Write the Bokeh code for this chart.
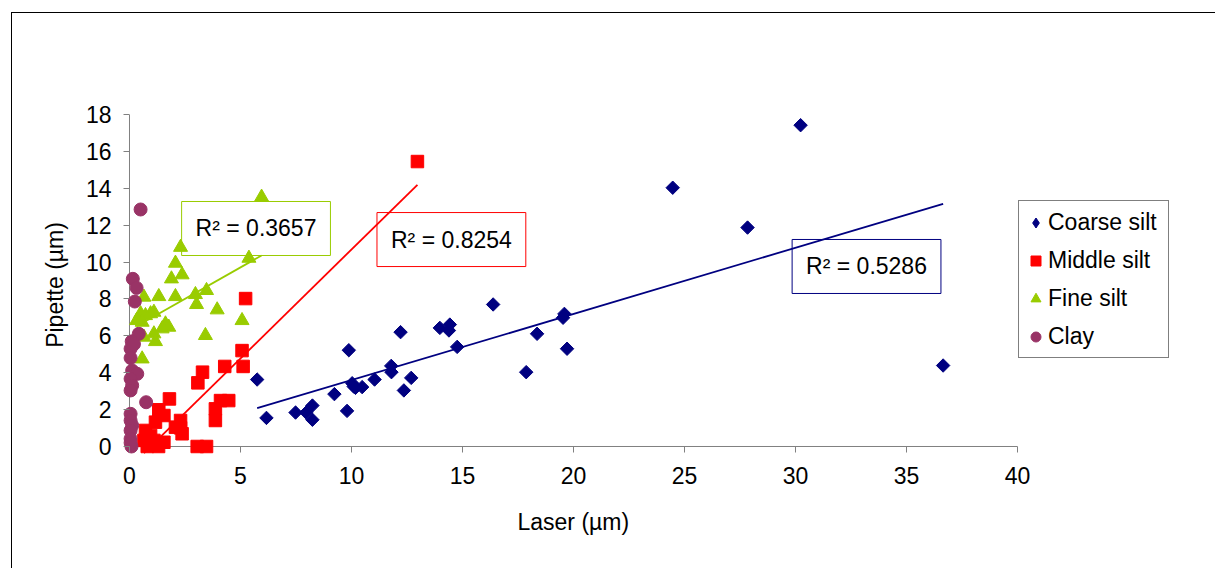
import numpy as np
from bokeh.plotting import figure
from bokeh.models import Range1d, Label, Legend, LegendItem, FixedTicker, Title
from bokeh.embed import file_html
from bokeh.resources import INLINE

# ---------------- data ----------------
coarse_x = [5.75, 6.17, 7.48, 7.96, 8.24, 8.24, 9.23, 9.80, 9.88, 10.03, 10.18, 10.10, 10.48,
            11.04, 11.79, 11.80, 12.21, 12.36, 12.69, 13.98, 14.43, 14.39, 14.76, 16.38, 17.87,
            18.36, 19.53, 19.59, 19.71, 24.47, 27.84, 30.23, 36.65]
coarse_y = [3.63, 1.55, 1.84, 1.84, 2.22, 1.45, 2.84, 1.93, 5.22, 3.43, 3.18, 3.25, 3.22,
            3.63, 4.37, 4.03, 6.20, 3.04, 3.72, 6.43, 6.61, 6.29, 5.40, 7.70, 4.03,
            6.11, 6.98, 7.19, 5.30, 14.03, 11.87, 17.42, 4.39]

middle_x = [12.97, 5.23, 5.07, 4.29, 5.12, 3.29, 3.08, 1.80, 4.47, 4.10, 3.87, 3.87, 1.32, 1.55,
            1.17, 2.30, 2.30, 2.37, 2.07, 0.72, 0.95, 0.65, 1.10, 1.55, 0.80, 3.05, 3.47, 1.31]
middle_y = [15.45, 8.02, 5.20, 4.34, 4.34, 4.03, 3.45, 2.58, 2.49, 2.49, 2.04, 1.41, 1.99, 1.68,
            1.32, 1.41, 1.01, 0.69, 1.05, 0.87, 0.60, 0.33, 0.33, 0.23, 0.00, 0.00, 0.00, 0.00]

fine_x = [5.95, 2.30, 5.38, 2.07, 1.89, 2.37, 0.65, 1.32, 2.07, 2.97, 3.47, 3.02, 3.95, 0.50,
          0.72, 0.95, 1.10, 0.32, 0.57, 1.62, 1.77, 1.47, 1.10, 1.17, 5.07, 3.42, 0.57, 0.65]
fine_y = [13.52, 10.80, 10.21, 9.94, 9.09, 9.31, 8.10, 8.13, 8.13, 8.24, 8.46, 7.70, 7.41, 7.20,
          7.10, 7.20, 7.28, 6.83, 6.74, 6.65, 6.47, 6.38, 6.11, 5.69, 6.83, 6.02, 4.75, 5.93]

clay_x = [0.50, 0.15, 0.32, 0.24, 0.42, 0.10, 0.05, 0.05, 0.12, 0.35, 0.05, 0.12, 0.05, 0.75,
          0.05, 0.05, 0.12, 0.05, 0.05, 0.09, 0.20, 0.05]
clay_y = [12.85, 9.09, 8.60, 7.86, 6.11, 5.70, 5.30, 4.80, 4.12, 3.94, 3.67, 3.31, 3.04, 2.40,
          1.77, 1.41, 1.14, 0.87, 0.42, 0.00, 5.55, 0.20]

series_names = ["Coarse silt", "Middle silt", "Fine silt", "Clay"]
r2_texts = ["R² = 0.5286", "R² = 0.8254", "R² = 0.3657"]
x_title = "Laser (µm)"
y_title = "Pipette (µm)"

x_ticks = [0, 5, 10, 15, 20, 25, 30, 35, 40]
y_ticks = [0, 2, 4, 6, 8, 10, 12, 14, 16, 18]

# --------------- layout / style ---------------
FONT = "Liberation Sans"
FS = "23px"
AX = "#808080"
C_COARSE, C_MIDDLE, C_FINE, C_CLAY = "#000080", "#FF0000", "#99CC00", "#993366"
r2_pos = [(33.2, 9.76), (14.5, 11.22), (5.70, 11.82)]
r2_colors = [C_COARSE, C_MIDDLE, C_FINE]

# the frame reaches a little below 0 (markers on the axes stay whole) and extends to the
# right past 40 so that the legend lies inside it; the visible axes span 0-40 / 0-18
p = figure(width=1204, height=556, x_range=Range1d(-0.495, 47.793), y_range=Range1d(-0.488, 18),
           output_backend="svg", toolbar_location=None,
           min_border_left=106, min_border_right=26, min_border_top=101, min_border_bottom=114)
p.margin = (12, 0, 0, 11)
p.styles = {"border-left": "1px solid #000000", "border-top": "1px solid #000000"}
p.outline_line_color = None
p.xgrid.visible = False
p.ygrid.visible = False

for ax in (p.xaxis[0], p.yaxis[0]):
    ax.axis_line_color = None
    ax.major_tick_line_color = AX
    ax.minor_tick_line_color = None
    ax.major_label_text_font = FONT
    ax.major_label_text_font_size = FS
    ax.major_label_text_color = "black"
    ax.axis_label_text_font = FONT
    ax.axis_label_text_font_size = FS
    ax.axis_label_text_font_style = "normal"
    ax.axis_label_text_color = "black"

# ticks shifted so that they hang off the zero lines
p.yaxis.major_tick_in = 11
p.yaxis.major_tick_out = -5
p.xaxis.major_tick_in = 9
p.xaxis.major_tick_out = -3
p.xaxis.ticker = FixedTicker(ticks=x_ticks)
p.yaxis.ticker = FixedTicker(ticks=y_ticks)
p.yaxis.axis_label = y_title
p.yaxis.major_label_standoff = 7
p.yaxis.axis_label_standoff = 15
p.xaxis.major_label_standoff = 11

# x-axis title centred under the 0-40 span
p.add_layout(Title(text=x_title, align="left", offset=399, standoff=40,
                   text_font=FONT, text_font_size=FS, text_font_style="normal",
                   text_color="black"), "below")

# axis lines along the zero lines
p.line([x_ticks[0], x_ticks[-1]], [y_ticks[0], y_ticks[0]], line_color=AX, line_width=1)
p.line([x_ticks[0], x_ticks[0]], [y_ticks[0], y_ticks[-1]], line_color=AX, line_width=1)

r_coarse = p.scatter(coarse_x, coarse_y, marker="square", angle=np.pi / 4, size=9.5,
                     fill_color=C_COARSE, line_color=C_COARSE)
r_middle = p.scatter(middle_x, middle_y, marker="square", size=12.5,
                     fill_color=C_MIDDLE, line_color=C_MIDDLE)
r_fine = p.scatter(fine_x, fine_y, marker="triangle", size=14,
                   fill_color=C_FINE, line_color=C_FINE)
r_clay = p.scatter(clay_x, clay_y, marker="circle", size=13,
                   fill_color=C_CLAY, line_color=C_CLAY)
# hidden diamond renderer of the same series, used only for the legend symbol
r_coarse_key = p.scatter(coarse_x, coarse_y, marker="diamond", size=10,
                         fill_color=C_COARSE, line_color=C_COARSE, visible=False)

# linear trend lines computed from the data
for xs, ys, col in [(coarse_x, coarse_y, C_COARSE), (middle_x, middle_y, C_MIDDLE),
                    (fine_x, fine_y, C_FINE)]:
    m, b = np.polyfit(xs, ys, 1)
    x0, x1 = min(xs), max(xs)
    p.line([x0, x1], [m * x0 + b, m * x1 + b], line_color=col, line_width=1.8)

for txt, (lx, ly), col in zip(r2_texts, r2_pos, r2_colors):
    p.add_layout(Label(x=lx, y=ly, text=txt, text_align="center", text_baseline="middle",
                       text_font=FONT, text_font_size=FS, text_color="black",
                       border_line_color=col, border_line_width=1,
                       background_fill_color=None, padding=14))

legend = Legend(items=[LegendItem(label=n, renderers=[r]) for n, r in
                       zip(series_names, [r_coarse_key, r_middle, r_fine, r_clay])],
                location=(900, 97), margin=0, padding=4, spacing=4,
                glyph_width=25, glyph_height=25, label_height=34, label_width=116,
                label_standoff=0, label_text_font=FONT, label_text_font_size=FS,
                label_text_color="black",
                border_line_color="#000000", border_line_width=1,
                background_fill_color="white")
p.add_layout(legend)

open("out.html", "w").write(file_html(p, INLINE))
